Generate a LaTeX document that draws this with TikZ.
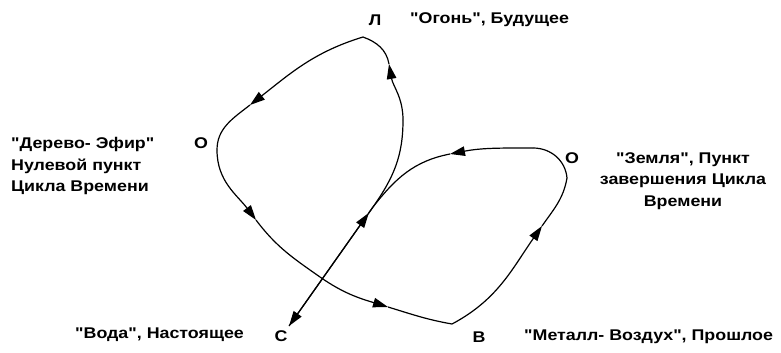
\documentclass[tikz,border=0pt]{standalone}
\usepackage{fontspec}
\newfontfamily\lblfont{Liberation Sans}[FakeStretch=1.15]
\usetikzlibrary{arrows.meta,calc}
\begin{document}
\begin{tikzpicture}[x=1pt,y=-1pt,
  curve/.style={line width=1.2pt,black},
  tipped/.style={curve,-{Triangle[length=15pt,width=9.5pt]}},
  lbl/.style={font=\lblfont\bfseries\fontsize{15.5}{21.5}\selectfont,inner sep=0pt},
  blk/.style={lbl}]
\useasboundingbox (0,0) rectangle (781,353);
% points on the curve
\coordinate (L) at (363,37);
\coordinate (O1) at (217,150);
\coordinate (X) at (320,277);
\coordinate (B) at (452,324);
\coordinate (R0) at (567,178);
\coordinate (T) at (533,148);
\coordinate (M) at (373,207);
\coordinate (C) at (289,326);
\coordinate (R1) at (403,120);
% arrow tips
\coordinate (a1) at (250,105);
\coordinate (a2) at (256,220);
\coordinate (a3) at (388,307);
\coordinate (a4) at (542,226);
\coordinate (a5) at (450,154);
\coordinate (a6) at ($(C)!0.95!(M)$);
\coordinate (a7) at (389,64);
% main loop
\draw[tipped] (L) to[out=197,in=38] (a1);
\draw[curve] (a1) to[out=218,in=90] (O1);
\draw[tipped] (O1) to[out=270,in=127] (a2);
\draw[curve] (a2) to[out=307,in=145] (X);
\draw[tipped] (X) to[out=325,in=163] (a3);
\draw[curve] (a3) to[out=343,in=170] (B);
\draw[tipped] (B) to[out=28,in=235] (a4);
\draw[curve] (a4) to[out=55,in=260] (R0);
\draw[curve] (R0) to[out=95,in=0] (T);
\draw[tipped] (T) to[out=180,in=11] (a5);
\draw[curve] (a5) to[out=191,in=52] (M);
\draw[tipped] (M) -- (C);
% return line
\draw[tipped] (C) -- (a6);
\draw[curve] (a6) -- (M);
\draw[curve] (M) to[out=55,in=270] (R1);
\draw[tipped] (R1) to[out=90,in=280] (a7);
\draw[curve] (a7) to[out=100,in=340] (L);
% labels
\node[lbl] (nL) at (375,20) {Л};
\node[lbl,anchor=west] (tL) at (410,20) {"Огонь", Будущее};
\node[lbl] (nO1) at (201,143) {О};
\node[blk,anchor=west,align=left] (tO1) at (11,166) {"Дерево- Эфир"\\Нулевой пункт\\Цикла Времени};
\node[lbl] (nO2) at (572,158) {О};
\node[blk,align=center] (tO2) at (683,181) {"Земля", Пункт\\завершения Цикла\\Времени};
\node[lbl,anchor=west] (tC) at (75,335) {"Вода", Настоящее};
\node[lbl] (nC) at (281,336) {С};
\node[lbl] (nB) at (479,337) {В};
\node[lbl,anchor=west] (tB) at (524,337) {"Металл- Воздух", Прошлое};
\end{tikzpicture}
\end{document}
